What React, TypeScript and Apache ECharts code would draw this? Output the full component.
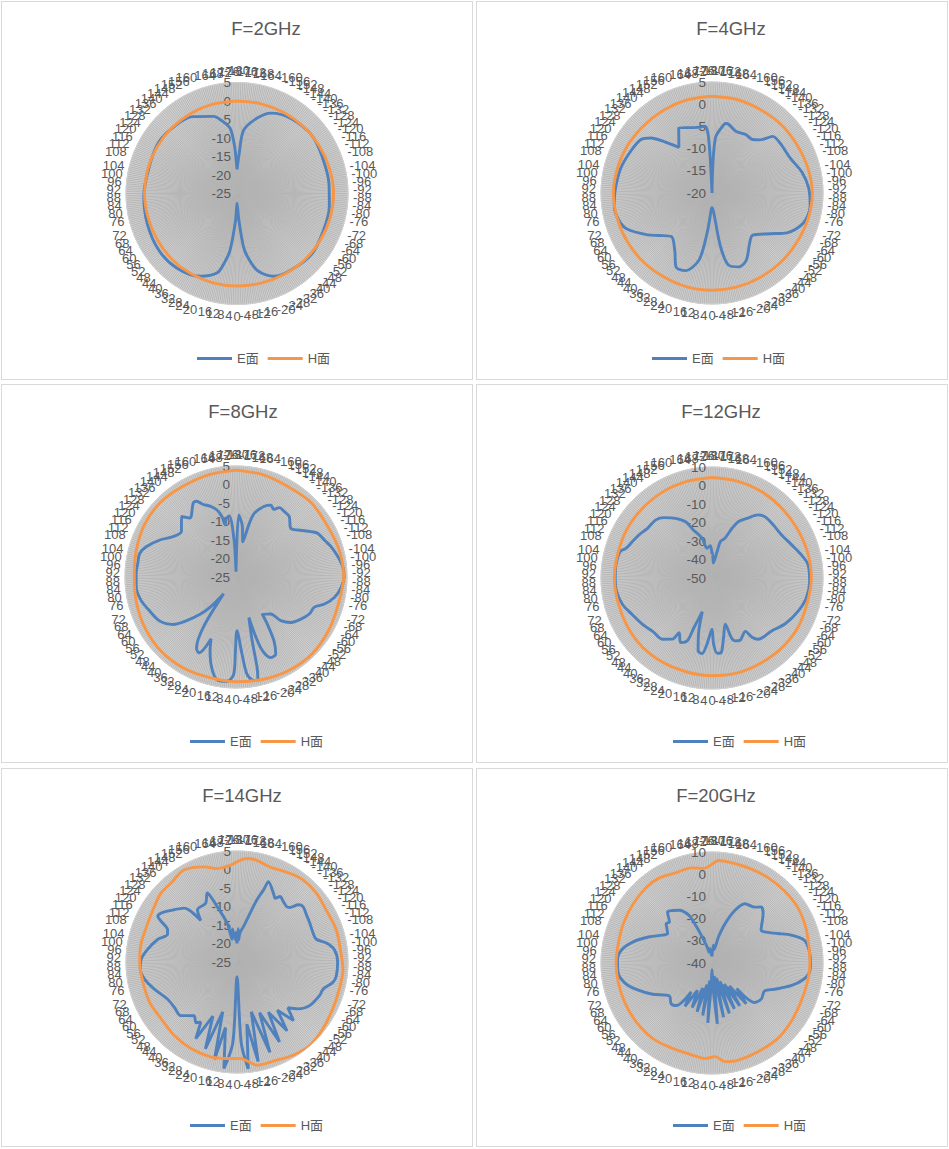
import React, { useEffect, useRef } from "react";
import * as echarts from "echarts";

// ---------- data ----------
const TITLES = ["F=2GHz", "F=4GHz", "F=8GHz", "F=12GHz", "F=14GHz", "F=20GHz"];
const SERIES_NAMES = ["E面", "H面"];
const R_MIN = [-25, -20, -25, -50, -25, -40];
const R_MAX = [5, 5, 5, 10, 5, 10];
const R_STEP = [5, 5, 5, 10, 5, 10];

// [angle (deg), level (dB)]
const E_2GHZ: number[][] = [
  [-180, -18.5], [-177, -14.5], [-174, -7.8], [-165, -3.9], [-157, -1.4], [-144, 0], [-128, 0.6],
  [-114, 0.1], [-96, 0], [-82, 0.2], [-67, 0.4], [-51, 1], [-35, 0.3], [-24, -0.5], [-15, -3.4],
  [-10, -7.2], [-7, -10.4], [-4, -17.8], [0, -22.4], [3, -17.8], [7, -9.5], [10, -6.3], [14, -2.9],
  [24, -0.5], [39, 0.9], [54, 1.1], [71, 0.6], [88, 0.2], [105, -0.2], [123, 0.3], [138, -0.2],
  [150, -1], [163, -3.2], [169, -5.2], [174, -7.3], [177, -12], [180, -18.5],
];
const H_2GHZ: number[][] = [
  [-180, 0], [-165, 0.1], [-150, 0.3], [-135, 0.5], [-120, 0.7], [-105, 0.9], [-90, 1.1], [-75, 1.0],
  [-60, 0.8], [-45, 0.6], [-30, 0.3], [-15, 0.1], [0, 0], [15, 0], [30, 0], [45, 0], [60, -0.1],
  [75, -0.1], [90, 0], [105, 0], [120, 0], [135, 0], [150, 0], [165, 0], [180, 0],
];

const E_4GHZ: number[][] = [
  [-180, -20], [-176.5, -7.6], [-170, -4.3], [-168, -4], [-159, -5.1], [-150, -4.8], [-143, -4.9],
  [-138, -3.9], [-133, -1.3], [-126, -1], [-114, -0.7], [-103, 0.8], [-93, 1.8], [-82.5, 2.3],
  [-72, 1.7], [-62, -0.9], [-55, -4], [-44, -6.8], [-37, -5.9], [-27, -3], [-20, -2.3], [-13, -3.3],
  [-9, -7.8], [-5, -15.6], [0, -16.7], [2, -16.5], [7, -10.9], [11, -4.6], [19, -1.5], [26, -1.5],
  [33, -4.6], [43, -6.6], [51, -4.8], [57, -2.7], [67, 0.8], [74, 1.9], [82.5, 2.2], [92, 1.8],
  [105, 1.3], [117, 0.6], [127, 0], [132, -1.5], [137, -4.2], [144, -7.3], [153, -3.5], [163, -4.6],
  [168, -4.9], [174, -4.9], [176.5, -7.6], [180, -20],
];
const H_4GHZ: number[][] = [
  [-180, 1.8], [-165, 1.8], [-150, 1.7], [-135, 1.9], [-120, 2.0], [-105, 2.3], [-90, 2.6], [-75, 2.4],
  [-60, 2.1], [-45, 2.0], [-30, 1.9], [-15, 1.9], [0, 1.9], [15, 1.9], [30, 1.8], [45, 1.9], [60, 2.0],
  [75, 2.1], [90, 2.2], [105, 2.0], [120, 1.8], [135, 1.6], [150, 1.6], [165, 1.7], [180, 1.8],
];

const E_8GHZ: number[][] = [
  [-180, -23.6], [-177.5, -8.2], [-173, -11], [-169, -15.3], [-166, -10], [-164, -7.1], [-158.4, -4.5],
  [-154, -3.4], [-151, -4.1], [-148, -2.9], [-143.7, -3], [-138.7, -3.2], [-131.7, -5.2], [-127.4, -4.1],
  [-121.2, -1.3], [-118, 0.1], [-112.7, 0.9], [-107.6, 2], [-101.2, 3.1], [-95.4, 4], [-90, 4.2],
  [-84.5, 3.6], [-78.4, 2.2], [-73, 0], [-69, -2.3], [-63.2, -2.8], [-57, -4.1], [-50.4, -5.7],
  [-45.7, -8.1], [-43.1, -11.3], [-35.3, -12.7], [-33.6, -9.7], [-30.7, -4.9], [-27.2, -1.5],
  [-23.2, -1.3], [-19.2, -4.8], [-17.6, -13.5], [-14.2, -7.2], [-13.1, 0.2], [-12, 3.4], [-9.8, 3.4],
  [-6.5, 1.5], [-4.5, -4], [-1, -10.5], [0.5, -4.5], [1.4, 1.4], [5, 3.3], [10.6, 3.2], [15, 0.4],
  [19.3, -3.8], [22, -7], [26, -2.2], [29, -3], [33, -8.7], [36.5, -19.4], [40.6, -14.3], [44, -11],
  [48.5, -7.2], [53, -3.7], [60, -1.2], [68.7, 0.1], [76, 1.4], [84, 2.1], [92, 2], [98, 1.8],
  [103.7, 1.8], [108.6, 0.6], [115.9, -2.1], [122.7, -4.8], [129.8, -5.8], [138, -3], [142, -4.8],
  [150, -1.9], [152.5, -1.9], [155.7, -3.5], [159.9, -4.6], [164, -6.1], [166.9, -8.2], [168.3, -10.6],
  [170.5, -9], [173.7, -8.4], [177, -15], [180, -23.6],
];
const H_8GHZ: number[][] = [
  [-180, 3.9], [-165, 3.6], [-150, 3.2], [-135, 3.6], [-120, 3.3], [-105, 3.8], [-90, 4.1], [-75, 3.6],
  [-60, 3.9], [-45, 4.2], [-30, 4], [-15, 3.6], [0, 3.3], [15, 3.1], [30, 3.4], [45, 3.5], [60, 3.2],
  [75, 2.8], [90, 2.5], [105, 2.9], [120, 3.5], [135, 3.7], [150, 3.4], [165, 3.6], [180, 3.9],
];

const E_12GHZ: number[][] = [
  [-180, -37], [-178.5, -36.6], [-175, -41.9], [-169, -35.5], [-167, -29.8], [-162, -27.4], [-158, -21],
  [-155, -16.4], [-149, -12.2], [-144, -7.8], [-139, -6.2], [-131, -6.2], [-122, -5.8], [-113, -3.5],
  [-104.5, -0.1], [-98, 2.4], [-88, 2.8], [-78, 2.1], [-69, -0.1], [-58, -3.3], [-48.4, -6.9],
  [-37, -8.5], [-34, -11.3], [-32, -16], [-24.3, -13.1], [-20.2, -13.8], [-18, -16], [-16, -24],
  [-11, -17.2], [-7, -9.4], [-4, -9.2], [-1.4, -14.2], [0, -22.3], [4.3, -14.2], [7.5, -8.8],
  [10.8, -9.9], [14, -20.5], [16, -31], [20, -21.4], [21.5, -13.5], [26, -11.2], [31, -15.5],
  [33, -10.6], [39, -7.4], [48, -6.9], [56, -4.9], [65, -2.7], [73.5, 0.4], [82, 2.1], [90, 2.3],
  [98, 2.4], [106, 1.7], [109, -0.8], [114.6, -2.7], [120.6, -4.2], [127.6, -6], [136, -6.3],
  [141.5, -8.3], [148.6, -12.2], [154.8, -16.4], [159, -22.3], [166, -27.8], [170.5, -33.7],
  [177, -32.5], [180, -37],
];
const H_12GHZ: number[][] = [
  [-180, 4.3], [-165, 4.1], [-150, 3.8], [-135, 3.4], [-120, 3.2], [-105, 3.5], [-90, 3.7], [-75, 3.2],
  [-60, 3.6], [-45, 3.4], [-30, 3], [-15, 3.1], [0, 2.8], [15, 2.6], [30, 2.8], [45, 3], [60, 2.7],
  [75, 2.5], [90, 2.8], [105, 2.6], [120, 3], [135, 3.2], [150, 3.6], [165, 3.9], [180, 4.3],
];

const E_14GHZ: number[][] = [
  [-180, -20], [-178, -16], [-176, -19], [-174, -17], [-169.5, -15.2], [-165, -11.3], [-162.3, -7.4],
  [-159.8, -4.3], [-158.6, -1.7], [-152, -4], [-149, -4.9], [-146.7, -3.8], [-142.6, -4.4],
  [-138, -4.9], [-136, -4.5], [-133, -2.3], [-130, -1.7], [-124.3, -2.3], [-118, -2.7], [-111, -3],
  [-106, -2.7], [-102, -0.3], [-97.3, 1.5], [-90, 2.2], [-82, 2.1], [-78, 1.5], [-72.5, -0.6],
  [-68, -0.9], [-59, -2.1], [-52.5, -4.2], [-48, -6.5], [-44, -3], [-40, -8], [-36, -2], [-32, -9],
  [-28, -0.5], [-24, -10], [-20, 1], [-16, -11], [-12, 2.5], [-9, -8], [-6, 4], [-3, -3], [0, -21],
  [3, -3], [7, 4], [10, -7], [13, 2], [16, -11], [20, 0], [24, -9], [28.3, -1.5], [31, -6],
  [34, -5.2], [38.7, -6.4], [46.4, -4], [54.2, -4.1], [62, -3.7], [71.8, -1.5], [79.5, 0.4],
  [85.7, 1.2], [91.6, 0.9], [98, -0.6], [105.8, -2.7], [111.6, -4.8], [115, -4.3], [117.7, -2.3],
  [120, -0.3], [122.8, -0.6], [129.7, -2.9], [135.5, -4.6], [138.9, -10.1], [142.8, -7.3],
  [151.9, -7], [156.6, -4.7], [158, -5.9], [160.3, -9.1], [165.7, -14.1], [167.6, -18.8],
  [172, -16], [176, -19], [178, -17], [180, -20],
];
const H_14GHZ: number[][] = [
  [-180, 2.1], [-174.5, 3.1], [-169, 3], [-161, 2.2], [-149, 2.9], [-141, 3.5], [-131, 3.4], [-120, 2.9],
  [-108, 3.2], [-95, 3.2], [-86, 3.7], [-75, 3.6], [-64, 3.8], [-52, 4.4], [-41, 4.9], [-31, 4.4],
  [-22, 3.6], [-11, 3.4], [-2, 1.1], [5.9, 1.2], [15.6, 1.6], [28, 1.5], [40.6, 1.1], [53, 0.6],
  [65, 1], [77.7, 1], [90, 1.3], [101, 1.4], [113.6, 1.3], [123.9, 1.9], [132, 2.7], [140, 2.8],
  [150, 3.7], [161, 2.2], [168, 0.8], [176, 1.2], [180, 2.1],
];

const E_20GHZ: number[][] = [
  [-180, -37], [-176, -32], [-172, -34], [-166, -27.8], [-161.6, -21.3], [-156.4, -14.1], [-151, -9.5],
  [-142.6, -8.3], [-138.6, -6.4], [-134, -8], [-123.7, -13.4], [-120.7, -12.5], [-114.2, -7.6],
  [-109.5, -2.3], [-104, 2.8], [-97.7, 4.1], [-90, 4.4], [-84.2, 4], [-80, 2], [-74, -3],
  [-67.2, -9.5], [-62, -13.2], [-54, -12.5], [-47.3, -13.8], [-44, -24], [-40, -16], [-37, -27],
  [-33, -17], [-30, -29], [-26, -17], [-23, -31], [-19, -16], [-16, -33], [-12, -15], [-9, -34],
  [-5, -12.5], [-2, -30], [0, -37], [2, -30], [4, -13], [7, -32], [10, -16], [13, -30], [17, -17],
  [20, -28], [24, -18], [28, -26], [32, -17], [36, -24], [40, -15], [45, -14], [52.4, -15.7],
  [62.2, -9.8], [70.8, -3.9], [77, 0.2], [84, 2.5], [92, 2.6], [98.3, 1.1], [105, -3.2],
  [112.8, -9.5], [119.5, -14.5], [123.7, -16], [130.6, -12.8], [133.9, -13.4], [138.9, -9.5],
  [143, -10.4], [148, -12], [154.2, -16.2], [156.5, -21.5], [159.4, -27.4], [163, -32.3],
  [165, -35.4], [170, -33], [175, -36], [180, -37],
];
const H_20GHZ: number[][] = [
  [-180, 4.4], [-176.3, 6.3], [-169, 6], [-159, 5.9], [-147, 6], [-135, 6], [-123, 6], [-111, 5.2],
  [-99.6, 4.3], [-90, 4.1], [-78.3, 3.8], [-66, 3.7], [-53, 4.4], [-41, 5.1], [-27.4, 5], [-15.2, 5.3],
  [-7.6, 4.8], [-2, 2.2], [4, 3.1], [12, 2.4], [24.8, 2.4], [38, 3.2], [52, 3.2], [65.6, 3.1],
  [78, 3.1], [90, 3.2], [102, 3.1], [114, 3.7], [127, 4.4], [139, 5.1], [148, 5.1], [158, 3.8],
  [168, 3.8], [175, 2.8], [180, 4.4],
];

const E_DATA = [E_2GHZ, E_4GHZ, E_8GHZ, E_12GHZ, E_14GHZ, E_20GHZ];
const H_DATA = [H_2GHZ, H_4GHZ, H_8GHZ, H_12GHZ, H_14GHZ, H_20GHZ];

// ---------- layout ----------
const PANEL_LEFT = [1, 476, 1, 476, 1, 476];
const PANEL_TOP = [1, 1, 384, 384, 768, 768];
const PANEL_W = 472;
const PANEL_H = 379;
const POLAR_CX = [235, 235, 234, 235, 235, 235];
const POLAR_CY = [191.5, 191, 192, 193, 193, 194];
const POLAR_R = 111;
const TITLE_X = [259, 249, 236, 239, 235, 234];
const LEGEND_X = [190, 170, 183, 191, 183, 191];

const FONT = "'Liberation Sans', 'Noto Sans CJK SC', sans-serif";
const TEXT = "#595959";
const BLUE = "#4F81BD";
const ORANGE = "#F79646";

function Panel({ i }: { i: number }) {
  const ref = useRef<HTMLDivElement>(null);
  useEffect(() => {
    if (!ref.current) return;
    const chart = echarts.init(ref.current, undefined, { renderer: "svg" });
    chart.setOption({
      animation: false,
      title: {
        text: TITLES[i],
        left: TITLE_X[i],
        top: 12,
        textAlign: "center",
        textStyle: { fontSize: 18.5, fontWeight: "normal", color: TEXT, fontFamily: FONT },
      },
      legend: {
        data: SERIES_NAMES,
        left: LEGEND_X[i],
        top: 345,
        icon: "rect",
        itemWidth: 35,
        itemHeight: 3,
        itemGap: 9,
        textStyle: { fontSize: 13, color: TEXT, fontFamily: FONT },
      },
      polar: { center: [POLAR_CX[i], POLAR_CY[i]], radius: POLAR_R },
      angleAxis: {
        type: "value",
        min: -180,
        max: 180,
        interval: 1,
        startAngle: 90,
        clockwise: true,
        axisLine: { show: true, lineStyle: { color: "#d0d0d0", width: 1 } },
        axisTick: { show: false },
        axisLabel: {
          show: true,
          margin: 5,
          color: TEXT,
          fontSize: 13,
          fontFamily: FONT,
          formatter: (v: number) => (Math.round(v) % 4 === 0 ? String(Math.round(v)) : ""),
        },
        splitLine: { show: true, lineStyle: { color: "#b3b3b3", width: 0.9 } },
      },
      radiusAxis: {
        type: "value",
        min: R_MIN[i],
        max: R_MAX[i],
        interval: R_STEP[i],
        axisLine: { show: false },
        axisTick: { show: false },
        axisLabel: { color: TEXT, fontSize: 13.5, fontFamily: FONT, margin: 6 },
        splitLine: { show: true, lineStyle: { color: "#c6c6c6", width: 1 } },
        splitArea: { show: true, areaStyle: { color: ["#d0d0d0", "#d0d0d0"] } },
      },
      series: [
        {
          name: SERIES_NAMES[0],
          type: "line",
          coordinateSystem: "polar",
          data: E_DATA[i].map(([a, v]) => [v, a]),
          smooth: 0.3,
          symbol: "none",
          lineStyle: { width: 2.9, color: BLUE },
          itemStyle: { color: BLUE },
        },
        {
          name: SERIES_NAMES[1],
          type: "line",
          coordinateSystem: "polar",
          data: H_DATA[i].map(([a, v]) => [v, a]),
          smooth: 0.3,
          symbol: "none",
          lineStyle: { width: 2.9, color: ORANGE },
          itemStyle: { color: ORANGE },
        },
      ],
    });
    return () => chart.dispose();
  }, [i]);
  return (
    <div
      style={{
        position: "absolute",
        left: PANEL_LEFT[i],
        top: PANEL_TOP[i],
        width: PANEL_W,
        height: PANEL_H,
        boxSizing: "border-box",
        border: "1px solid #d9d9d9",
        background: "#fff",
      }}
    >
      <div ref={ref} style={{ width: PANEL_W - 2, height: PANEL_H - 2 }} />
    </div>
  );
}

export default function App() {
  return (
    <div style={{ position: "absolute", left: 0, top: 0, width: 949, height: 1149, background: "#fff" }}>
      {TITLES.map((_, i) => (
        <Panel key={i} i={i} />
      ))}
    </div>
  );
}
